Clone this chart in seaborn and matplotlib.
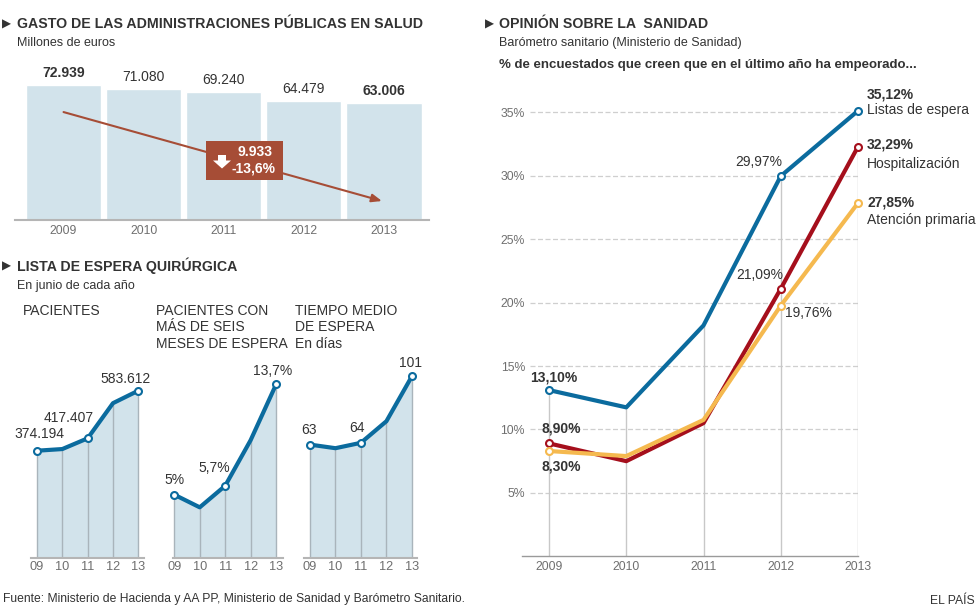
import matplotlib
matplotlib.use("Agg")
import matplotlib.pyplot as plt
from matplotlib.patches import Rectangle, Polygon
import seaborn as sns
import pandas as pd

# ---- data ----
years = ["2009", "2010", "2011", "2012", "2013"]
gasto = [72939, 71080, 69240, 64479, 63006]
gasto_labels = ["72.939", "71.080", "69.240", "64.479", "63.006"]
gasto_bold = [True, False, False, False, True]

short_years = ["09", "10", "11", "12", "13"]
pacientes = [374194, 380000, 417407, 540000, 583612]
pacientes_lbl = {0: "374.194", 2: "417.407", 4: "583.612"}
seis_meses = [5.0, 4.0, 5.7, 9.3, 13.7]
seis_lbl = {0: "5%", 2: "5,7%", 4: "13,7%"}
tiempo = [63, 61, 64, 76, 101]
tiempo_lbl = {0: "63", 2: "64", 4: "101"}

listas = [13.10, 11.74, 18.2, 29.97, 35.12]
hospital = [8.90, 7.5, 10.5, 21.09, 32.29]
primaria = [8.30, 7.9, 10.75, 19.76, 27.85]
series_names = ["Listas de espera", "Hospitalización", "Atención primaria"]
series_colors = ["#0b6b9e", "#a50f1c", "#f5b94f"]

BAR = "#d2e3eb"
BROWN = "#a64d36"
DARK = "#333333"
GRAY_TXT = "#6f6f6f"
VLINE = "#a9b4bb"

sns.set_theme(style="white")
plt.rcParams["font.family"] = ["Liberation Sans", "DejaVu Sans"]

W, H = 980, 608
fig = plt.figure(figsize=(W / 100, H / 100), dpi=100)


def px_axes(l, t, r, b):
    return fig.add_axes([l / W, 1 - b / H, (r - l) / W, (b - t) / H])


def fx(x):
    return x / W


def fy(y):
    return 1 - y / H


def bullet(x, y):
    fig.text(fx(x), fy(y), "▶", family=["DejaVu Sans"], fontsize=8.5, color=DARK, va="center")


# ---- headers ----
bullet(2, 24)
fig.text(fx(17), fy(24), "GASTO DE LAS ADMINISTRACIONES PÚBLICAS EN SALUD", fontsize=10.2,
         weight="bold", color=DARK, va="center")
fig.text(fx(17), fy(43), "Millones de euros", fontsize=9, color=DARK, va="center")

bullet(2, 266)
fig.text(fx(17), fy(266), "LISTA DE ESPERA QUIRÚRGICA", fontsize=10.2, weight="bold", color=DARK, va="center")
fig.text(fx(17), fy(286), "En junio de cada año", fontsize=9, color=DARK, va="center")

bullet(485, 24)
fig.text(fx(499), fy(24), "OPINIÓN SOBRE LA  SANIDAD", fontsize=10.2, weight="bold", color=DARK, va="center")
fig.text(fx(499), fy(43), "Barómetro sanitario (Ministerio de Sanidad)", fontsize=9, color=DARK, va="center")
fig.text(fx(499), fy(65), "% de encuestados que creen que en el último año ha empeorado...", fontsize=9.5,
         weight="bold", color=DARK, va="center")

# ---- top bar chart ----
ax = px_axes(15, 72, 429, 220)
df_g = pd.DataFrame({"year": years, "gasto": gasto})
sns.barplot(data=df_g, x="year", y="gasto", color=BAR, saturation=1, width=0.94, ax=ax)
ax.set_xlim(-0.606, 4.5625)
ax.set_ylim(0, 80000)
for i, (v, lbl, b) in enumerate(zip(gasto, gasto_labels, gasto_bold)):
    ax.annotate(lbl, (i, v), xytext=(0, 8.6), textcoords="offset points", ha="center", va="center",
                fontsize=10, color=DARK, weight="bold" if b else "normal")
ax.annotate("", xy=(3.975, 10265), xytext=(0, 58346),
            arrowprops=dict(arrowstyle="-|>,head_length=0.5,head_width=0.2", color=BROWN, lw=1.5,
                            shrinkA=0, shrinkB=0))
ax.set_xlabel("")
ax.set_ylabel("")
ax.set_yticks([])
ax.tick_params(axis="x", length=0, pad=3.5, labelsize=8.8, labelcolor=GRAY_TXT)
for s in ["top", "left", "right"]:
    ax.spines[s].set_visible(False)
ax.spines["bottom"].set_color("#b5b5b5")
ax.spines["bottom"].set_linewidth(1.5)

fig.patches.append(Rectangle((fx(206), fy(179.5)), 77 / W, 38.5 / H, transform=fig.transFigure,
                             facecolor=BROWN, edgecolor="none", zorder=5))
arrow_px = [(218, 155), (226, 155), (226, 160.5), (231, 160.5), (222, 168.5), (213, 160.5), (218, 160.5)]
fig.patches.append(Polygon([(fx(a), fy(b)) for a, b in arrow_px], closed=True, transform=fig.transFigure,
                           facecolor="white", edgecolor="none", zorder=6))
fig.text(fx(255), fy(151.7), "9.933", ha="center", va="center", color="white", weight="bold",
         fontsize=10, zorder=7)
fig.text(fx(253), fy(168.3), "-13,6%", ha="center", va="center", color="white", weight="bold",
         fontsize=10, zorder=7)

# ---- small multiples ----
panels = [
    ("PACIENTES", pacientes, pacientes_lbl, (31, 144), (-0.237, 4.225), 690600, 23,
     {0: (1.5, 12), 2: (-13.4, 14.4), 4: (-9, 8.2)}),
    ("PACIENTES CON\nMÁS DE SEIS\nMESES DE ESPERA", seis_meses, seis_lbl, (173, 282.7), (-0.05, 4.26), 15.63, 156,
     {0: (0.3, 10.6), 2: (-8, 12.7), 4: (-2.2, 9.4)}),
    ("TIEMPO MEDIO\nDE ESPERA\nEn días", tiempo, tiempo_lbl, (304.3, 417.3), (-0.22, 4.21), 110, 295,
     {0: (-0.8, 10.8), 2: (-2.5, 10.6), 4: (-0.8, 9.6)}),
]
for title, vals, lbls, (l, r), xl, ymax, tx, offs in panels:
    fig.text(fx(tx), fy(304), title, fontsize=10, color=DARK, va="top", linespacing=1.22)
    a = px_axes(l, 360, r, 558)
    xs = list(range(len(vals)))
    a.fill_between(xs, vals, color=BAR, lw=0, zorder=1)
    a.vlines(xs, 0, vals, color=VLINE, lw=1, zorder=2)
    sns.lineplot(x=xs, y=vals, color=series_colors[0], lw=3, ax=a, zorder=3)
    ix = list(lbls.keys())
    a.plot(ix, [vals[i] for i in ix], "o", ms=5, mfc="white", mec=series_colors[0], mew=1.5,
           zorder=4, clip_on=False)
    for i, t in lbls.items():
        a.annotate(t, (i, vals[i]), xytext=offs[i], textcoords="offset points", ha="center", va="center",
                   fontsize=10, color=DARK)
    a.set_xlim(*xl)
    a.set_ylim(0, ymax)
    a.set_xticks(xs)
    a.set_xticklabels(short_years)
    a.set_yticks([])
    a.tick_params(axis="x", length=0, pad=2.5, labelsize=9.2, labelcolor=GRAY_TXT)
    for s in ["top", "left", "right"]:
        a.spines[s].set_visible(False)
    a.spines["bottom"].set_color("#b5b5b5")
    a.spines["bottom"].set_linewidth(1.5)

# ---- right line chart ----
ar = px_axes(522, 86.9, 858, 556.3)
df_o = pd.DataFrame({
    "x": list(range(5)) * 3,
    "v": listas + hospital + primaria,
    "serie": [n for n in series_names for _ in range(5)],
})
tops = [max(a, b, c) for a, b, c in zip(listas, hospital, primaria)]
ar.vlines(range(5), 0, tops, color="#c8c8c8", lw=1, zorder=1)
for yv in [5, 10, 15, 20, 25, 30, 35]:
    ar.axhline(yv, xmin=8 / 336, xmax=1, color="#cfcfcf", lw=0.9, ls=(0, (4, 2)), zorder=0)
sns.lineplot(data=df_o, x="x", y="v", hue="serie", hue_order=series_names,
             palette=dict(zip(series_names, series_colors)), lw=3, legend=False, ax=ar, zorder=3)
for vals, c in zip([listas, hospital, primaria], series_colors):
    ar.plot([0, 3, 4], [vals[0], vals[3], vals[4]], "o", ms=5, mfc="white", mec=c, mew=1.5,
            zorder=4, clip_on=False)

ar.set_xlim(-0.35, 4.0)
ar.set_ylim(0, 37)
ar.set_xticks(range(5))
ar.set_xticklabels(years)
ar.set_yticks([5, 10, 15, 20, 25, 30, 35])
ar.set_yticklabels([f"{v}%" for v in [5, 10, 15, 20, 25, 30, 35]])
ar.set_xlabel("")
ar.set_ylabel("")
ar.tick_params(axis="x", length=0, pad=3.6, labelsize=8.8, labelcolor=GRAY_TXT)
ar.tick_params(axis="y", length=0, pad=-2.2, labelsize=8.8, labelcolor=GRAY_TXT)
for s in ["top", "left", "right"]:
    ar.spines[s].set_visible(False)
ar.spines["bottom"].set_color("#9a9a9a")
ar.spines["bottom"].set_linewidth(1)

pt_labels = [
    (listas, 3, "29,97%", (-15.8, 10.1), "normal"),
    (hospital, 3, "21,09%", (-15.3, 9.7), "normal"),
    (primaria, 3, "19,76%", (20.2, -5.5), "normal"),
    (listas, 0, "13,10%", (3.1, 9.2), "bold"),
    (hospital, 0, "8,90%", (8.6, 10.9), "bold"),
    (primaria, 0, "8,30%", (8.6, -11.3), "bold"),
]
for vals, i, t, off, w in pt_labels:
    ar.annotate(t, (i, vals[i]), xytext=off, textcoords="offset points", ha="center", va="center",
                fontsize=10, color=DARK, weight=w)

end_labels = [
    (listas, "35,12%", 11.9, "Listas de espera", 0.6),
    (hospital, "32,29%", 1.7, "Hospitalización", -12.5),
    (primaria, "27,85%", 0.0, "Atención primaria", -12.2),
]
for vals, pct, dy1, name, dy2 in end_labels:
    ar.annotate(pct, (4, vals[4]), xytext=(6.5, dy1), textcoords="offset points", ha="left", va="center",
                fontsize=10, color=DARK, weight="bold", annotation_clip=False)
    ar.annotate(name, (4, vals[4]), xytext=(6.5, dy2), textcoords="offset points", ha="left", va="center",
                fontsize=10, color=DARK, annotation_clip=False)

# ---- footer ----
fig.text(fx(3), fy(599), "Fuente: Ministerio de Hacienda y AA PP, Ministerio de Sanidad y Barómetro Sanitario.",
         family=["Liberation Sans Narrow", "Liberation Sans"], fontsize=8.7, color=DARK, va="center")
fig.text(fx(975), fy(601), "EL PAÍS", family=["Liberation Sans Narrow", "Liberation Sans"], fontsize=8.7,
         color=DARK, va="center", ha="right")

fig.savefig("out.png", dpi=100, facecolor="white")
